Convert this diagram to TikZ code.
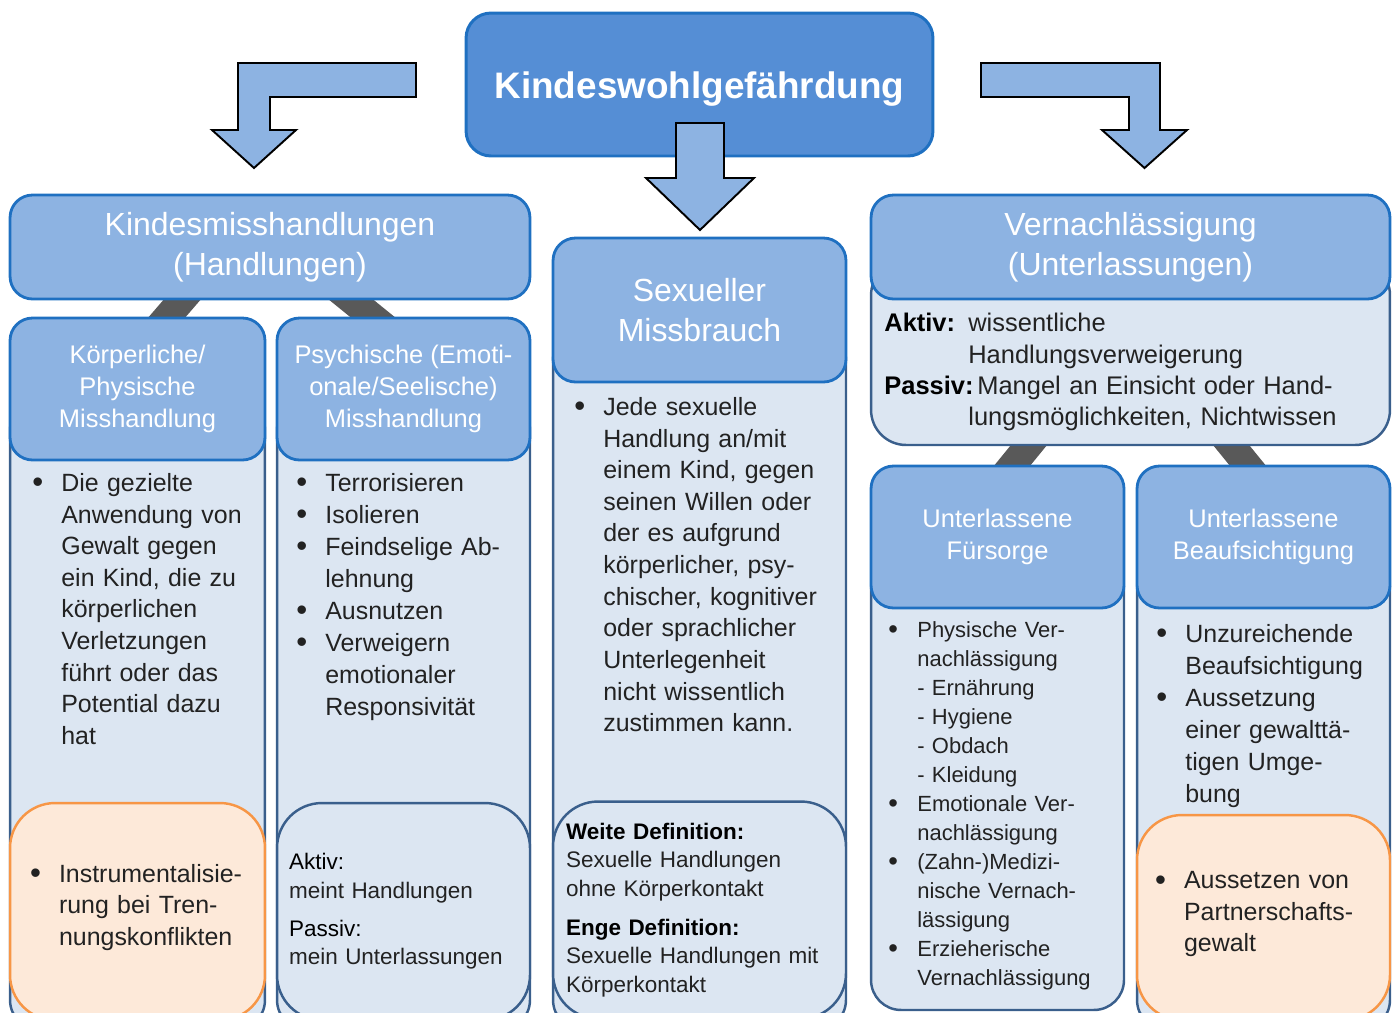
\documentclass[tikz,border=0pt]{standalone}
\usepackage{fontspec}
\usepackage{graphicx}
\setmainfont{Liberation Sans}
\usetikzlibrary{calc,backgrounds}

\definecolor{mainfill}{HTML}{558ED5}
\definecolor{hdrfill}{HTML}{8DB3E2}
\definecolor{hdrline}{HTML}{1F70C1}
\definecolor{bodyfill}{HTML}{DCE6F2}
\definecolor{bodyline}{HTML}{3A5F8C}
\definecolor{orfill}{HTML}{FDE9D9}
\definecolor{orline}{HTML}{F79646}
\definecolor{linkgray}{HTML}{595959}
\definecolor{txt}{HTML}{222222}

\hyphenpenalty=10000
\newlength{\bulw}
\setlength{\bulw}{0.58cm}
\newcommand{\itm}{\noindent\hangindent=\bulw\hangafter=1\makebox[\bulw][l]{\raisebox{-0.1ex}{\scalebox{1.25}{\textbullet}}}}
\newcommand{\fs}[2]{\fontsize{#1}{#2}\selectfont}

\begin{document}
\begin{tikzpicture}[x=0.02cm,y=-0.02cm]
  \tikzset{ rootbox/.style={draw=hdrline,line width=1.7pt,fill=mainfill,rounded corners=0.5cm,
      text=white,font=\fs{21pt}{25pt}\bfseries,text height=0.72cm,minimum width=9.34cm,minimum height=2.86cm},
    headbox/.style={draw=hdrline,line width=1.6pt,fill=hdrfill,rounded corners=0.45cm,
      text=white,align=center,inner sep=0pt},
    bigfont/.style={font=\fs{18.2pt}{22.6pt}},
    subfont/.style={font=\fs{14.5pt}{18pt}},
    bodybox/.style={draw=bodyline,line width=1.4pt,fill=bodyfill,rounded corners=0.6cm,inner sep=0pt},
    notebox/.style={bodybox,rounded corners=0.9cm,text=txt,align=left},
    warnbox/.style={notebox,draw=orline,fill=orfill},
    listtext/.style={text=txt,align=left,inner sep=0pt,anchor=north west},
    blockarrow/.style={draw=black,line width=1.1pt,fill=hdrfill,line join=miter},
    link/.style={draw=linkgray,line width=0.56cm,shorten <=-0.4cm,shorten >=-0.4cm},
  }
  \useasboundingbox (0,0) rectangle (1398,1012);
  \clip (0,0) rectangle (1398,1012);

  % arrows to the sides
  \draw[blockarrow] (416,63) -- (238,63) -- (238,130) -- (212,130) -- (254,168)
    -- (296,130) -- (270,130) -- (270,97) -- (416,97) -- cycle;
  \draw[blockarrow] (981,63) -- (1160,63) -- (1160,130) -- (1187,130) -- (1144.5,168)
    -- (1102,130) -- (1129,130) -- (1129,97) -- (981,97) -- cycle;

  \node[rootbox] (kwg) at (699.5,84.5) {Kindeswohlgefährdung};
  \draw[blockarrow] (676,123) -- (724,123) -- (724,178) -- (754,178) -- (700,230)
    -- (646,178) -- (676,178) -- cycle;

  % column bodies
  \node[bodybox,minimum width=5.1cm,minimum height=12.6cm] (kpb) at (137.5,715) {};
  \node[bodybox,minimum width=5.06cm,minimum height=12.6cm] (psb) at (403.5,715) {};
  \node[bodybox,minimum width=5.86cm,minimum height=14cm] (smb) at (699.5,680) {};
  \node[bodybox,rounded corners=0.7cm,minimum width=10.38cm,minimum height=3.7cm] (vnb) at (1130.5,352.5) {};
  \node[bodybox,minimum width=5.06cm,minimum height=9cm] (ufb) at (997.5,785) {};
  \node[bodybox,minimum width=5.06cm,minimum height=9.4cm] (ubb) at (1263.5,795) {};

  % headers
  \node[headbox,bigfont,minimum width=10.4cm,minimum height=2.08cm] (kmh) at (270,247)
    {Kindesmisshandlungen\\(Handlungen)};
  \node[headbox,bigfont,minimum width=10.38cm,minimum height=2.08cm] (vnh) at (1130.5,247)
    {Vernachlässigung\\(Unterlassungen)};
  \node[headbox,bigfont,minimum width=5.86cm,minimum height=2.88cm] (smh) at (699.5,310)
    {Sexueller\\Missbrauch};
  \node[headbox,subfont,minimum width=5.1cm,minimum height=2.84cm] (kph) at (137.5,389)
    {Körperliche/\\Physische\\Misshandlung};
  \node[headbox,subfont,minimum width=5.06cm,minimum height=2.84cm] (psh) at (403.5,389)
    {Psychische (Emoti-\\onale/Seelische)\\Misshandlung};
  \node[headbox,subfont,minimum width=5.06cm,minimum height=2.84cm] (ufh) at (997.5,537)
    {Unterlassene\\Fürsorge};
  \node[headbox,subfont,minimum width=5.06cm,minimum height=2.84cm] (ubh) at (1263.5,537)
    {Unterlassene\\Beaufsichtigung};

  % boxes at the bottom
  \node[warnbox,minimum width=5.1cm,minimum height=4.34cm,text width=4.3cm,
    font=\fs{14.2pt}{17.9pt}] (kpo) at (137.5,911.5)
    {\itm Instrumentalisie-\newline rung bei Tren-\newline nungskonflikten\par\vspace{0.16cm}};
  \node[notebox,minimum width=5.06cm,minimum height=4.34cm,text width=4.58cm,
    font=\fs{12.8pt}{16.2pt}] (psu) at (403.5,911.5)
    {\textcolor{black}{Aktiv:}\newline meint Handlungen\par\vspace{5.5pt}
     \textcolor{black}{Passiv:}\newline mein Unterlassungen};
  \node[notebox,minimum width=5.86cm,minimum height=4.34cm,text width=5.34cm,
    font=\fs{12.8pt}{16.2pt}] (smu) at (699.5,910)
    {\textbf{\textcolor{black}{Weite Definition:}}\newline Sexuelle Handlungen\newline ohne Körperkontakt\par\vspace{6pt}
     \textbf{\textcolor{black}{Enge Definition:}}\newline Sexuelle Handlungen mit\newline Körperkontakt};
  \node[warnbox,minimum width=5.06cm,minimum height=4.1cm,text width=4.34cm,
    font=\fs{14.2pt}{17.7pt}] (ubo) at (1263.5,917.5)
    {\itm Aussetzen von\newline Partnerschafts-\newline gewalt\par\vspace{0.14cm}};

  % texts in the bodies
  \node[listtext,text width=5cm,font=\fs{14.2pt}{18pt}] (kpt) at (32,473)
    {\itm Die gezielte\newline Anwendung von\newline Gewalt gegen\newline ein Kind, die zu\newline
     körperlichen\newline Verletzungen\newline führt oder das\newline Potential dazu\newline hat\par};
  \node[listtext,text width=5cm,font=\fs{14.2pt}{18.2pt}] (pst) at (296,473)
    {\itm Terrorisieren\par\itm Isolieren\par\itm Feindselige Ab-\newline lehnung\par\itm Ausnutzen\par
     \itm Verweigern\newline emotionaler\newline Responsivität\par};
  \node[listtext,text width=5.5cm,font=\fs{14.2pt}{18pt}] (smt) at (574,397)
    {\itm Jede sexuelle\newline Handlung an/mit\newline einem Kind, gegen\newline seinen Willen oder\newline
     der es aufgrund\newline körperlicher, psy-\newline chischer, kognitiver\newline oder sprachlicher\newline
     Unterlegenheit\newline nicht wissentlich\newline zustimmen kann.\par};
  \node[listtext,text width=10cm,font=\fs{14.5pt}{17.8pt}] (vnt) at (884,313)
    {\noindent\hangindent=1.68cm\hangafter=1\makebox[1.68cm][l]{\textbf{\textcolor{black}{Aktiv:}}}wissentliche\newline
     Handlungsverweigerung\par
     \noindent\hangindent=1.68cm\hangafter=1\makebox[1.86cm][l]{\textbf{\textcolor{black}{Passiv:}}}Mangel an Einsicht oder Hand-\newline
     lungsmöglichkeiten, Nichtwissen\par};
  \node[listtext,text width=4.8cm,font=\fs{12.5pt}{16.5pt}] (uft) at (888,621)
    {\itm Physische Ver-\newline nachlässigung\newline - Ernährung\newline - Hygiene\newline - Obdach\newline - Kleidung\par
     \itm Emotionale Ver-\newline nachlässigung\par\itm (Zahn-)Medizi-\newline nische Vernach-\newline lässigung\par
     \itm Erzieherische\newline Vernachlässigung\par};
  \node[listtext,text width=4.6cm,font=\fs{14.2pt}{18.2pt}] (ubt) at (1156,624)
    {\itm Unzureichende\newline Beaufsichtigung\par\itm Aussetzung\newline einer gewalttä-\newline tigen Umge-\newline bung\par};

  % the connection between the boxes
  \begin{scope}[on background layer]
    \draw[link] ($(kmh.south)+(-88.5,0)$) -- ($(kph.north)+(30,0)$);
    \draw[link] ($(kmh.south)+(82,0)$) -- ($(psh.north)+(-31.5,0)$);
    \draw[link] ($(vnb.south)+(-102.5,0)$) -- ($(ufh.north)+(15.5,0)$);
    \draw[link] ($(vnb.south)+(101.5,0)$) -- ($(ubh.north)+(-16.5,0)$);
  \end{scope}
\end{tikzpicture}
\end{document}
